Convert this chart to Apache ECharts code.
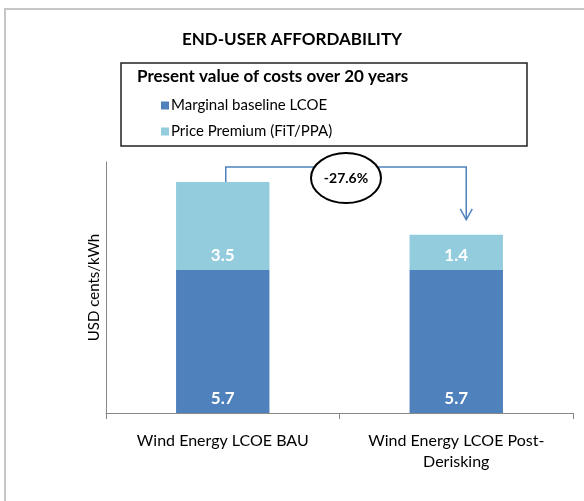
<!DOCTYPE html>
<html>
<head>
<meta charset="UTF-8">
<title>End-user affordability</title>
<script src="https://cdn.jsdelivr.net/npm/echarts@6/dist/echarts.min.js"></script>
<style>
  html, body { margin: 0; padding: 0; background: #fff; }
  #chart { width: 584px; height: 501px; }
</style>
</head>
<body>
<div id="chart"></div>
<script>
  // values
  var categories = ['Wind Energy LCOE BAU', 'Wind Energy LCOE Post-\nDerisking'];
  var baselineLcoe = [5.7, 5.7];
  var pricePremium = [3.5, 1.4];
  var seriesNames = ['Marginal baseline LCOE', 'Price Premium (FiT/PPA)'];
  var changeLabel = '-27.6%';

  var font = 'Lato, "Open Sans", sans-serif';
  var darkBlue = '#4f81bd';
  var lightBlue = '#93cddd';

  var chart = echarts.init(document.getElementById('chart'));

  var barLabel = {
    show: true,
    position: 'insideBottom',
    distance: 6,
    color: '#fff',
    fontFamily: font,
    fontWeight: 'bold',
    fontSize: 17
  };

  chart.setOption({
    animation: false,
    title: {
      text: 'END-USER AFFORDABILITY',
      left: 'center',
      top: 26,
      textStyle: { fontFamily: font, fontSize: 17, fontWeight: 'bold', color: '#000' }
    },
    legend: {
      data: seriesNames,
      orient: 'vertical',
      left: 156,
      top: 93,
      itemWidth: 8,
      itemHeight: 8,
      itemGap: 11,
      icon: 'rect',
      textStyle: { fontFamily: font, fontSize: 15, color: '#000', padding: [0, 0, 0, -3] }
    },
    grid: { left: 106, right: 11, top: 162, bottom: 88 },
    xAxis: {
      type: 'category',
      data: categories,
      axisLine: { lineStyle: { color: '#888', width: 1 } },
      axisTick: { show: true, length: 6, lineStyle: { color: '#888' } },
      axisLabel: { fontFamily: font, fontSize: 16, color: '#000', lineHeight: 21, margin: 17 }
    },
    yAxis: {
      type: 'value',
      min: 0,
      max: 10,
      name: 'USD cents/kWh',
      nameLocation: 'middle',
      nameGap: 4,
      nameTextStyle: { fontFamily: font, fontSize: 15, color: '#000' },
      axisLine: { show: true, lineStyle: { color: '#888', width: 1 } },
      axisTick: { show: false },
      axisLabel: { show: false },
      splitLine: { show: false }
    },
    series: [{
      name: seriesNames[0],
      type: 'bar',
      stack: 'cost',
      barWidth: '40%',
      itemStyle: { color: darkBlue },
      label: barLabel,
      data: baselineLcoe
    }, {
      name: seriesNames[1],
      type: 'bar',
      stack: 'cost',
      barWidth: '40%',
      itemStyle: { color: lightBlue },
      label: barLabel,
      data: pricePremium
    }],
    graphic: [{
      id: 'frameTop',
      type: 'line',
      shape: { x1: 4, y1: 9, x2: 584, y2: 9 },
      style: { stroke: '#c6c6c6', lineWidth: 2 }
    }, {
      id: 'frameLeft',
      type: 'line',
      shape: { x1: 5, y1: 8, x2: 5, y2: 501 },
      style: { stroke: '#c6c6c6', lineWidth: 2 }
    }, {
      id: 'legendBox',
      type: 'rect',
      shape: { x: 121, y: 63, width: 406, height: 83 },
      style: { fill: 'none', stroke: '#222', lineWidth: 1.5 }
    }, {
      id: 'legendTitle',
      type: 'text',
      x: 137,
      y: 68,
      style: {
        text: 'Present value of costs over 20 years',
        fontFamily: font, fontSize: 17, fontWeight: 'bold', fill: '#000'
      }
    }]
  });

  // change arrow from the BAU total to the post-derisking total
  function drawArrow() {
    var total0 = baselineLcoe[0] + pricePremium[0];
    var total1 = baselineLcoe[1] + pricePremium[1];
    var p0 = chart.convertToPixel({ gridIndex: 0 }, [0, total0]);
    var p1 = chart.convertToPixel({ gridIndex: 0 }, [1, total1]);
    var topY = p0[1] - 15;
    var x0 = p0[0] + 3;
    var x1 = p1[0] + 10;
    var tipY = p1[1] - 15;
    var midX = (x0 + x1) / 2;
    var midY = topY + 11;
    chart.setOption({
      graphic: [{
        id: 'arrowLine',
        type: 'polyline',
        shape: { points: [[x0, p0[1]], [x0, topY], [x1, topY], [x1, tipY]] },
        style: { stroke: darkBlue, lineWidth: 1.5, fill: 'none' }
      }, {
        id: 'arrowHead',
        type: 'polyline',
        shape: { points: [[x1 - 6, tipY - 11], [x1, tipY], [x1 + 6, tipY - 11]] },
        style: { stroke: darkBlue, lineWidth: 1.5, fill: 'none' }
      }, {
        id: 'changeOval',
        type: 'ellipse',
        shape: { cx: midX, cy: midY, rx: 35, ry: 25 },
        style: { fill: '#fff', stroke: '#000', lineWidth: 2 }
      }, {
        id: 'changeText',
        type: 'text',
        x: midX,
        y: midY,
        style: {
          text: changeLabel,
          align: 'center',
          verticalAlign: 'middle',
          fontFamily: font, fontSize: 14, fontWeight: 'bold', fill: '#000'
        }
      }]
    });
  }
  drawArrow();
</script>
</body>
</html>
